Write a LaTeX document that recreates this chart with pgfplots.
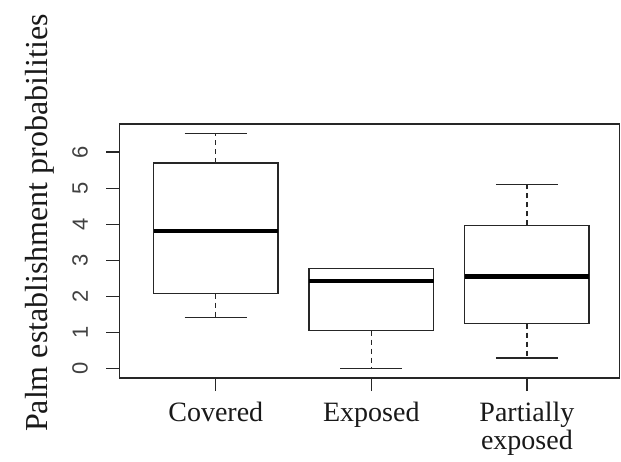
\documentclass[border=0pt]{standalone}
\usepackage{fontspec}
\setmainfont{Liberation Serif}
\newfontfamily\arial{Liberation Sans}
\usepackage{pgfplots}
\pgfplotsset{compat=1.18}
\begin{document}
\begin{tikzpicture}
\path[use as bounding box] (0,0) rectangle (621bp,462bp);
\begin{axis}[
  at={(119.3bp,84bp)}, anchor=south west,
  scale only axis, width=500.2bp, height=254bp,
  xmin=0.38, xmax=3.595, ymin=-0.26, ymax=6.78,
  axis line style={black!85, line width=1.3bp},
  xtick={1,2,3}, xticklabels={Covered, Exposed, {Partially\\exposed}},
  ytick={0,1,2,3,4,5,6},
  tick align=outside, major tick length=13bp,
  tick style={black!85, line width=1.3bp},
  xtick pos=left, ytick pos=left,
  xticklabel style={yshift=-8bp, font=\fontsize{28bp}{28bp}\selectfont, align=center, text=black!90},
  yticklabel style={xshift=-15bp, rotate=90, anchor=south, font=\arial\fontsize{22bp}{22bp}\selectfont, text=black!75},
  /pgf/number format/assume math mode=true,
  ylabel={Palm establishment probabilities},
  ylabel style={font=\fontsize{32bp}{32bp}\selectfont, at={(axis description cs:-0.1445,0.61)}, anchor=base, text=black!90},
  cycle list={{draw=black!85}},
  every axis plot/.append style={draw=black!85, mark=none, line width=1.4bp},
]
% boxes
\addplot[line cap=rect] coordinates {(0.6,2.08) (1.4,2.08) (1.4,5.70) (0.6,5.70) (0.6,2.08)};
\addplot[line cap=rect] coordinates {(1.6,1.05) (2.4,1.05) (2.4,2.78) (1.6,2.78) (1.6,1.05)};
\addplot[line cap=rect] coordinates {(2.6,1.25) (3.4,1.25) (3.4,3.97) (2.6,3.97) (2.6,1.25)};
% medians
\addplot[line width=4.3bp, draw=black] coordinates {(0.6,3.82) (1.4,3.82)};
\addplot[line width=4.3bp, draw=black] coordinates {(1.6,2.43) (2.4,2.43)};
\addplot[line width=4.3bp, draw=black] coordinates {(2.6,2.55) (3.4,2.55)};
% whiskers
\addplot[dash pattern=on 5bp off 4bp] coordinates {(1,5.70) (1,6.52)};
\addplot[dash pattern=on 5bp off 4bp] coordinates {(1,2.08) (1,1.41)};
\addplot[dash pattern=on 5bp off 4bp] coordinates {(2,1.05) (2,0.0)};
\addplot[dash pattern=on 5bp off 4bp] coordinates {(3,3.97) (3,5.10)};
\addplot[dash pattern=on 5bp off 4bp] coordinates {(3,1.25) (3,0.29)};
% caps
\addplot[solid] coordinates {(0.8,6.52) (1.2,6.52)};
\addplot[solid] coordinates {(0.8,1.41) (1.2,1.41)};
\addplot[solid] coordinates {(1.8,0.0) (2.2,0.0)};
\addplot[solid] coordinates {(2.8,5.10) (3.2,5.10)};
\addplot[solid] coordinates {(2.8,0.29) (3.2,0.29)};
\end{axis}
\end{tikzpicture}
\end{document}
